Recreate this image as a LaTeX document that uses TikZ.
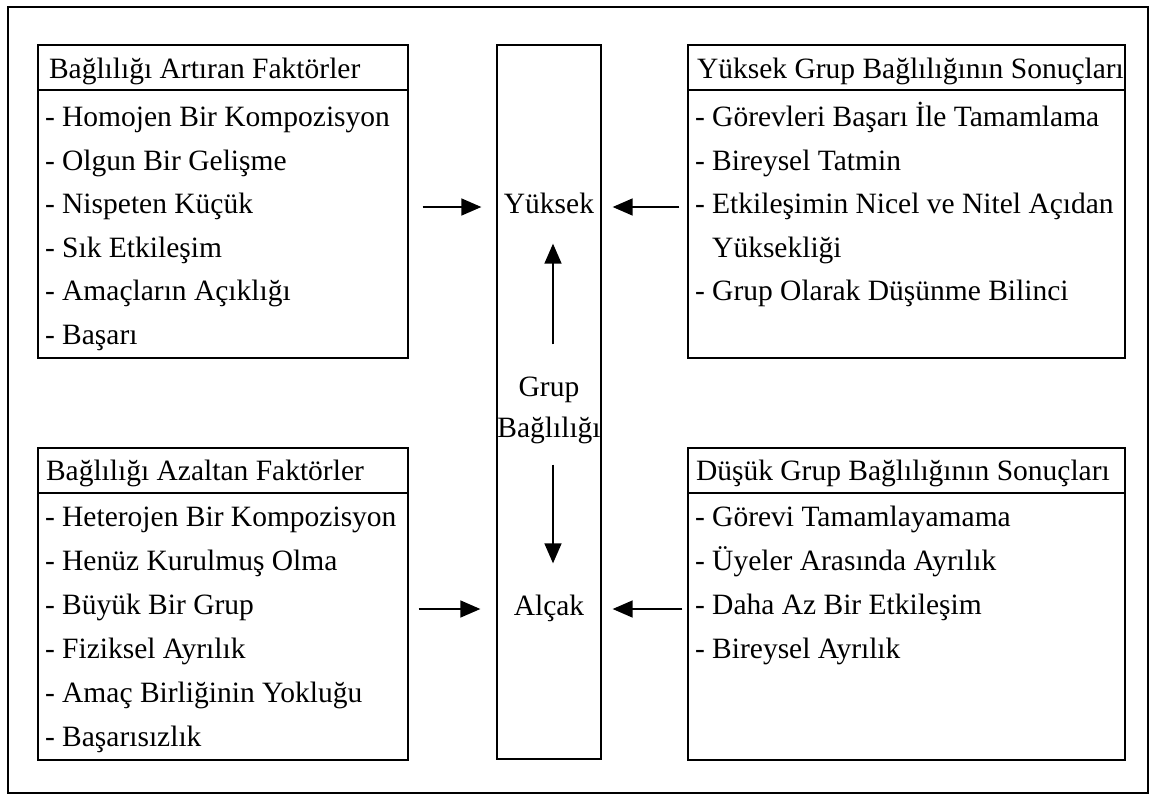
\documentclass[tikz,border=0pt]{standalone}
\usepackage{fontspec}
\setmainfont{Liberation Serif}
\usetikzlibrary{arrows.meta,positioning}

\begin{document}
\begin{tikzpicture}[x=1pt, y=-1pt, line width=1.3pt,
    box/.style={draw, line width=1.3pt, inner sep=0pt},
    txt/.style={font=\fontsize{29.5pt}{35pt}\selectfont, inner sep=2pt, text height=20pt, text depth=7pt},
    item/.style={txt, anchor=west},
    arr/.style={-{Triangle[length=20pt,width=17pt]}, line width=1.5pt}]
  \useasboundingbox (0,0) rectangle (1157,796);
  % outer frame
  \draw (8,7) rectangle (1148,793);

  % the five boxes
  \node[box, minimum width=370pt, minimum height=313pt] (tlbox) at (223,201.5) {};
  \node[box, minimum width=370pt, minimum height=312pt] (llbox) at (223,604) {};
  \node[box, minimum width=437pt, minimum height=313pt] (trbox) at (906.5,201.5) {};
  \node[box, minimum width=437pt, minimum height=312pt] (lrbox) at (906.5,604) {};
  \node[box, minimum width=104pt, minimum height=714pt] (mid) at (549,402) {};

  % header rules
  \draw (tlbox.west |- 0,90) -- (tlbox.east |- 0,90);
  \draw (trbox.west |- 0,90) -- (trbox.east |- 0,90);
  \draw (llbox.west |- 0,493) -- (llbox.east |- 0,493);
  \draw (lrbox.west |- 0,493) -- (lrbox.east |- 0,493);

  % headers
  \node[item] (tlhead) at ([xshift=9pt]tlbox.west |- 0,72) {Bağlılığı Artıran Faktörler};
  \node[item] (trhead) at ([xshift=7pt]trbox.west |- 0,72) {Yüksek Grup Bağlılığının Sonuçları};
  \node[item] (llhead) at ([xshift=6pt]llbox.west |- 0,474) {Bağlılığı Azaltan Faktörler};
  \node[item] (lrhead) at ([xshift=6pt]lrbox.west |- 0,474) {Düşük Grup Bağlılığının Sonuçları};

  % list items
  \foreach \t [count=\i from 0, evaluate=\i as \yy using 120+43.5*\i] in
      {- Homojen Bir Kompozisyon, - Olgun Bir Gelişme, - Nispeten Küçük,
       - Sık Etkileşim, - Amaçların Açıklığı, - Başarı}
    \node[item] (tl-\i) at ([xshift=5pt]tlbox.west |- 0,\yy) {\t};
  \foreach \t [count=\i from 0, evaluate=\i as \yy using 120+43.5*\i] in
      {- Görevleri Başarı İle Tamamlama, - Bireysel Tatmin,
       - Etkileşimin Nicel ve Nitel Açıdan, \hphantom{-~}Yüksekliği,
       - Grup Olarak Düşünme Bilinci}
    \node[item] (tr-\i) at ([xshift=5pt]trbox.west |- 0,\yy) {\t};
  \foreach \t [count=\i from 0, evaluate=\i as \yy using 520+44*\i] in
      {- Heterojen Bir Kompozisyon, - Henüz Kurulmuş Olma, - Büyük Bir Grup,
       - Fiziksel Ayrılık, - Amaç Birliğinin Yokluğu, - Başarısızlık}
    \node[item] (ll-\i) at ([xshift=5pt]llbox.west |- 0,\yy) {\t};
  \foreach \t [count=\i from 0, evaluate=\i as \yy using 520+44*\i] in
      {- Görevi Tamamlayamama, - Üyeler Arasında Ayrılık,
       - Daha Az Bir Etkileşim, - Bireysel Ayrılık}
    \node[item] (lr-\i) at ([xshift=5pt]lrbox.west |- 0,\yy) {\t};

  % centre column
  \node[txt] (yuksek) at (549,207) {Yüksek};
  \node[txt] (grup) at (549,390) {Grup};
  \node[txt] (bagli) at (549,431) {Bağlılığı};
  \node[txt] (alcak) at (549,609) {Alçak};

  % arrows
  \draw[arr, shorten <=14pt, shorten >=15pt] (tlbox.east |- yuksek) -- (mid.west |- yuksek);
  \draw[arr, shorten <=8pt, shorten >=11pt] (trbox.west |- yuksek) -- (mid.east |- yuksek);
  \draw[arr, shorten <=10pt, shorten >=16pt] (llbox.east |- alcak) -- (mid.west |- alcak);
  \draw[arr, shorten <=5pt, shorten >=11pt] (lrbox.west |- alcak) -- (mid.east |- alcak);
  \draw[arr] ([xshift=4pt, yshift=29.5pt]grup.north) -- ([xshift=4pt, yshift=-20.5pt]yuksek.south);
  \draw[arr] ([xshift=4pt, yshift=-17.5pt]bagli.south) -- ([xshift=4pt, yshift=29.5pt]alcak.north);
\end{tikzpicture}
\end{document}
